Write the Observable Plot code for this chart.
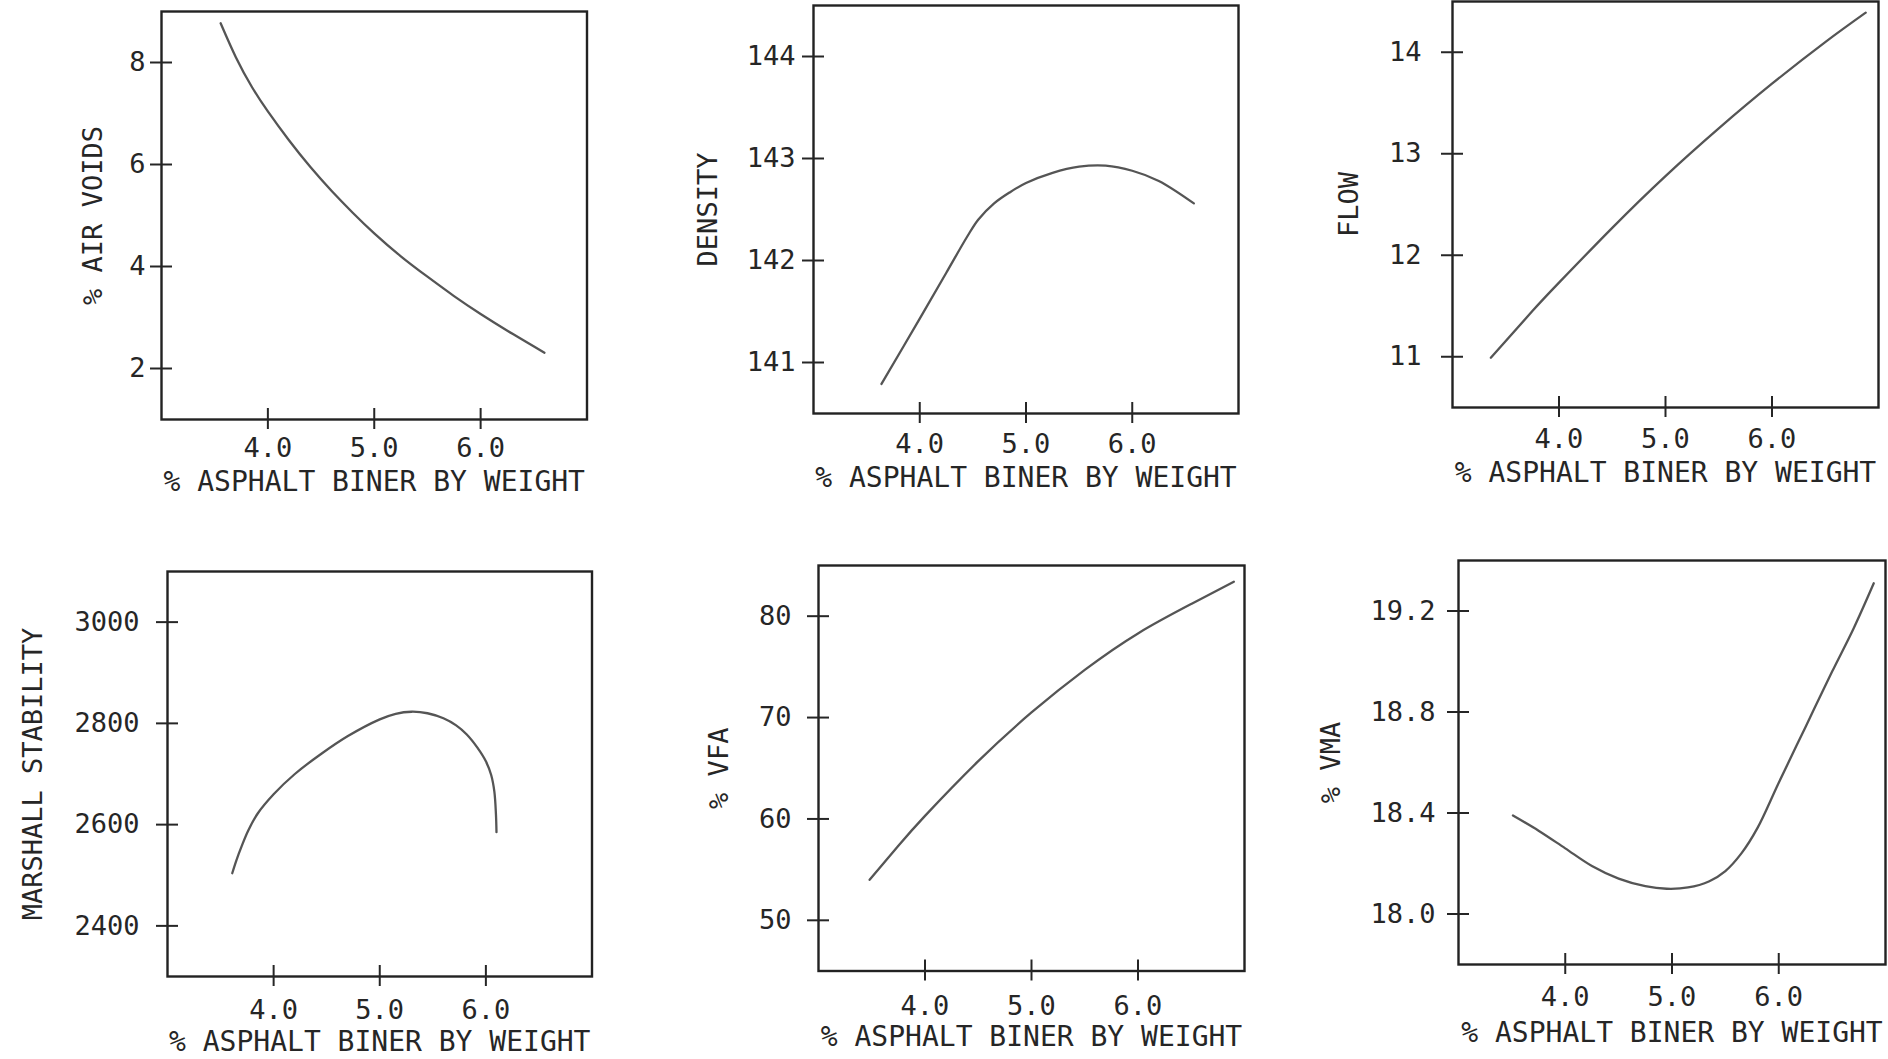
<!DOCTYPE html>
<html><head><meta charset="utf-8">
<script src="https://cdn.jsdelivr.net/npm/d3@7"></script>
<script src="https://cdn.jsdelivr.net/npm/@observablehq/plot@0.6"></script>
<style>
html,body{margin:0;padding:0;background:#fff;}
#page{position:relative;width:1888px;height:1059px;overflow:hidden;background:#fff;}
.panel{position:absolute;}
</style></head><body><div id="page"></div>
<script>
// ---- data ----
const xTicks = [4, 5, 6];
const xLabel = "% ASPHALT BINER BY WEIGHT";

const airLabel = "% AIR VOIDS";
const airX = [3.556, 3.7, 3.85, 4.0, 4.2, 4.4, 4.6, 4.8, 5.0, 5.25, 5.5, 5.75, 6.0, 6.3, 6.6];
const airY = [8.77, 8.1, 7.52, 7.04, 6.47, 5.95, 5.48, 5.05, 4.65, 4.2, 3.8, 3.42, 3.07, 2.68, 2.31];
const airTicks = [2, 4, 6, 8];

const denLabel = "DENSITY";
const denX = [3.64, 4.0, 4.25, 4.45, 4.55, 4.7, 4.85, 5.0, 5.25, 5.5, 5.75, 6.0, 6.25, 6.58];
const denY = [140.79, 141.43, 141.88, 142.24, 142.40, 142.56, 142.67, 142.76, 142.86, 142.92, 142.93, 142.88, 142.78, 142.56];
const denTicks = [141, 142, 143, 144];

const flowLabel = "FLOW";
const flowX = [3.36, 3.75, 4.0, 4.5, 5.0, 5.5, 6.0, 6.5, 6.88];
const flowY = [10.99, 11.45, 11.73, 12.27, 12.78, 13.25, 13.69, 14.10, 14.39];
const flowTicks = [11, 12, 13, 14];

const stabLabel = "MARSHALL STABILITY";
const stabX = [3.61, 3.65, 3.7, 3.76, 3.85, 4.0, 4.2, 4.45, 4.7, 5.0, 5.15, 5.3, 5.45, 5.6, 5.72, 5.82, 5.92, 6.0, 6.05, 6.08, 6.095, 6.1];
const stabY = [2504, 2530, 2558, 2588, 2622, 2660, 2700, 2740, 2775, 2808, 2819, 2823, 2820, 2810, 2796, 2778, 2752, 2725, 2698, 2665, 2620, 2585];
const stabTicks = [2400, 2600, 2800, 3000];

const vfaLabel = "% VFA";
const vfaX = [3.48, 3.75, 4.0, 4.5, 5.0, 5.5, 6.0, 6.5, 6.9];
const vfaY = [54.0, 57.35, 60.3, 65.7, 70.5, 74.7, 78.3, 81.2, 83.4];
const vfaTicks = [50, 60, 70, 80];

const vmaLabel = "% VMA";
const vmaX = [3.51, 3.75, 4.0, 4.25, 4.5, 4.75, 4.95, 5.15, 5.35, 5.5, 5.65, 5.8, 6.0, 6.25, 6.5, 6.7, 6.89];
const vmaY = [18.39, 18.33, 18.26, 18.19, 18.14, 18.11, 18.10, 18.105, 18.13, 18.17, 18.24, 18.34, 18.52, 18.74, 18.96, 19.13, 19.31];
const vmaTicks = [18.0, 18.4, 18.8, 19.2];

// ---- layout ----
const panels = [
  {label: airLabel,  xs: airX,  ys: airY,  yDomain: [1, 9],         yTicks: airTicks,  yFmt: "d",   curve: "natural",     box: {left: 160.5, top: 11,    w: 425.5, h: 408}, yLab: 68,  yPad: 5,  xPad: 8,  xLab: 62.5},
  {label: denLabel,  xs: denX,  ys: denY,  yDomain: [140.5, 144.5], yTicks: denTicks,  yFmt: "d",   curve: "catmull-rom", box: {left: 813,   top: 5,     w: 425,   h: 408}, yLab: 105, yPad: 7,  xPad: 10, xLab: 65},
  {label: flowLabel, xs: flowX, ys: flowY, yDomain: [10.5, 14.5],   yTicks: flowTicks, yFmt: "d",   curve: "natural",     box: {left: 1452,  top: 1,     w: 426,   h: 406}, yLab: 103, yPad: 20, xPad: 11, xLab: 65.5},
  {label: stabLabel, xs: stabX, ys: stabY, yDomain: [2300, 3100],   yTicks: stabTicks, yFmt: "d",   curve: "catmull-rom", box: {left: 166.7, top: 570.5, w: 424.5, h: 405}, yLab: 134, yPad: 17, xPad: 13, xLab: 66},
  {label: vfaLabel,  xs: vfaX,  ys: vfaY,  yDomain: [45, 85],       yTicks: vfaTicks,  yFmt: "d",   curve: "natural",     box: {left: 818,   top: 565,   w: 426,   h: 405.5}, yLab: 99, yPad: 16, xPad: 15, xLab: 66.5},
  {label: vmaLabel,  xs: vmaX,  ys: vmaY,  yDomain: [17.8, 19.4],   yTicks: vmaTicks,  yFmt: ".1f", curve: "catmull-rom", box: {left: 1457.7, top: 559.7, w: 427,  h: 404}, yLab: 127, yPad: 12, xPad: 12, xLab: 69}
];

const page = document.getElementById("page");
const mL = 170, mR = 12, mT = 14, mB = 95;
const FONT = "'DejaVu Sans Mono', 'Liberation Mono', monospace";
const INK = "#262626";

for (const p of panels) {
  const data = p.xs.map((x, i) => ({x, y: p.ys[i]}));
  const chart = Plot.plot({
    width: mL + p.box.w + mR,
    height: mT + p.box.h + mB,
    marginLeft: mL, marginRight: mR, marginTop: mT, marginBottom: mB,
    style: {background: "transparent", fontFamily: FONT, fontSize: "27px", color: INK, overflow: "visible", maxWidth: "none"},
    x: {domain: [3, 7], nice: false},
    y: {domain: p.yDomain, nice: false},
    marks: [
      Plot.frame({stroke: "#222", strokeWidth: 2.4}),
      // outward part of ticks + labels
      Plot.axisY(p.yTicks, {anchor: "left", tickSize: 11, tickPadding: p.yPad, tickFormat: d3.format(p.yFmt), label: null, strokeWidth: 2, fontSize: 27}),
      Plot.axisX(xTicks, {anchor: "bottom", tickSize: 10, tickPadding: p.xPad, tickFormat: d3.format(".1f"), label: null, strokeWidth: 2, fontSize: 27}),
      // inward part of ticks
      Plot.tickY(p.yTicks, {y: d => d, insetRight: p.box.w - 11, stroke: INK, strokeWidth: 2}),
      Plot.tickX(xTicks, {x: d => d, insetTop: p.box.h - 11, stroke: INK, strokeWidth: 2}),
      Plot.line(data, {x: "x", y: "y", curve: p.curve, stroke: "#555", strokeWidth: 2.3}),
      Plot.text([p.label], {frameAnchor: "left", dx: -p.yLab, rotate: -90, text: d => d, textAnchor: "middle", lineAnchor: "middle", fontSize: 27, fill: INK}),
      Plot.text([xLabel], {frameAnchor: "bottom", dy: p.xLab, text: d => d, textAnchor: "middle", lineAnchor: "middle", fontSize: 28, fill: INK})
    ]
  });
  const div = document.createElement("div");
  div.className = "panel";
  div.style.left = (p.box.left - mL) + "px";
  div.style.top = (p.box.top - mT) + "px";
  div.appendChild(chart);
  page.appendChild(div);
}
</script></body></html>
